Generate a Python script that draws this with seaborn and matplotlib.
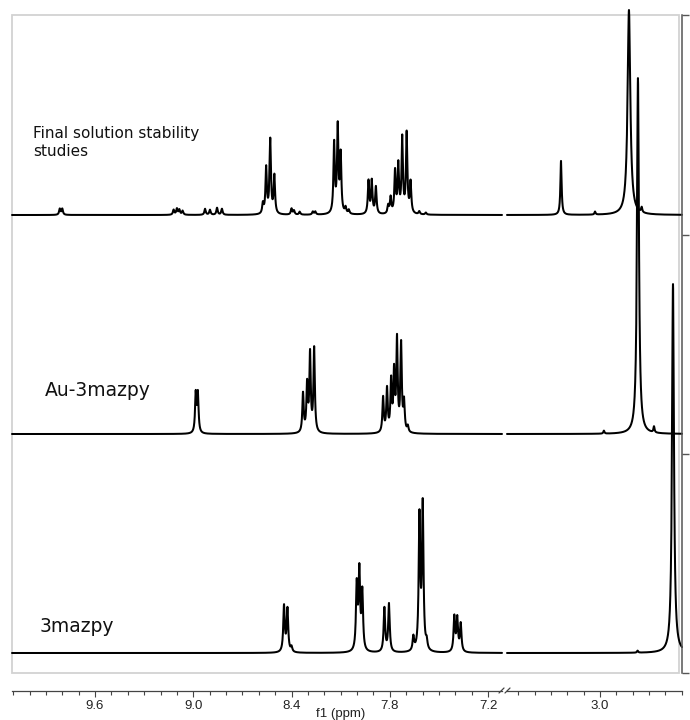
import numpy as np
import pandas as pd
import matplotlib
matplotlib.use("Agg")
import matplotlib.pyplot as plt
from matplotlib.patches import Rectangle
from matplotlib.lines import Line2D
from matplotlib.ticker import MultipleLocator, NullFormatter
import seaborn as sns

# ---------------- data (peak lists) ----------------
trace_names = ["3mazpy", "Au-3mazpy", "Final solution stability\nstudies"]
trace_offsets = [0, 219, 438]

# aromatic region (left panel): chemical shift (ppm) / peak height
top_left_ppm = [9.815, 9.800, 9.120, 9.100, 9.085, 9.065, 8.928, 8.898, 8.855, 8.825,
                8.575, 8.555, 8.530, 8.505, 8.400, 8.385, 8.350, 8.270, 8.255,
                8.140, 8.118, 8.100, 8.070, 8.050, 7.930, 7.910, 7.885,
                7.810, 7.795, 7.768, 7.748, 7.724, 7.697, 7.673, 7.620, 7.580]
top_left_int = [6, 6, 5, 6, 5, 4, 6, 5, 7, 6,
                10, 46, 74, 38, 6, 4, 3, 3, 3,
                70, 86, 58, 6, 4, 33, 33, 27,
                8, 16, 42, 48, 75, 80, 31, 3, 2]

mid_left_ppm = [8.985, 8.972, 8.330, 8.305, 8.287, 8.262,
                7.841, 7.817, 7.792, 7.774, 7.756, 7.731, 7.713, 7.690]
mid_left_int = [39, 39, 39, 47, 78, 84,
                35, 43, 50, 58, 91, 87, 29, 6]

bot_left_ppm = [8.446, 8.425, 8.400, 8.002, 7.986, 7.968, 7.833, 7.805,
                7.656, 7.619, 7.599, 7.575, 7.406, 7.388, 7.367]
bot_left_int = [46, 43, 5, 65, 78, 58, 44, 48,
                14, 133, 145, 8, 35, 33, 28]

# aliphatic region (right panel)
top_right_ppm = [3.238, 3.030, 2.823, 2.745]
top_right_int = [54, 3, 205, 5]
top_right_w = [0.0045, 0.004, 0.010, 0.004]

mid_right_ppm = [2.976, 2.768, 2.670]
mid_right_int = [3, 356, 6]
mid_right_w = [0.004, 0.007, 0.004]

bot_right_ppm = [2.770, 2.554]
bot_right_int = [2, 369]
bot_right_w = [0.004, 0.007]

left_width = [0.0055, 0.005, 0.005]

x_major_step = 0.6
x_minor_step = 0.1
x_label = "f1 (ppm)"


def lorentz(grid, centers, heights, widths):
    y = np.zeros_like(grid)
    for c, h, w in zip(centers, heights, widths):
        y += h * w ** 2 / ((grid - c) ** 2 + w ** 2)
    return y


# ---------------- figure ----------------
sns.set_theme(style="white")
plt.rcParams["font.family"] = ["DejaVu Sans"]

W, H = 690, 720
fig = plt.figure(figsize=(W / 100, H / 100), dpi=100)


def fx(px):
    return px / W


def fy(py):
    return 1 - py / H


top_px, bot_px = 15, 673
ax1 = fig.add_axes([fx(12), fy(bot_px), fx(502) - fx(12), (bot_px - top_px) / H])
ax2 = fig.add_axes([fx(507), fy(bot_px), fx(682) - fx(507), (bot_px - top_px) / H])

left_lim = (10.107, 7.115)
right_lim = (3.568, 2.499)
grid_l = np.linspace(left_lim[1], left_lim[0], 7000)
grid_r = np.linspace(right_lim[1], right_lim[0], 3000)

left_sets = [(bot_left_ppm, bot_left_int), (mid_left_ppm, mid_left_int), (top_left_ppm, top_left_int)]
right_sets = [(bot_right_ppm, bot_right_int, bot_right_w),
              (mid_right_ppm, mid_right_int, mid_right_w),
              (top_right_ppm, top_right_int, top_right_w)]

for i, off in enumerate(trace_offsets):
    cl, hl = left_sets[i]
    yl = lorentz(grid_l, cl, hl, [left_width[i]] * len(cl)) + off
    sns.lineplot(x=grid_l, y=yl, ax=ax1, color="black", lw=1.45, sort=False,
                 estimator=None, clip_on=False)
    cr, hr, wr = right_sets[i]
    yr = lorentz(grid_r, cr, hr, wr) + off
    sns.lineplot(x=grid_r, y=yr, ax=ax2, color="black", lw=1.45, sort=False,
                 estimator=None, clip_on=False)

for ax, lim in ((ax1, left_lim), (ax2, right_lim)):
    ax.set_facecolor("none")
    ax.set_xlim(*lim)
    ax.set_ylim(-20, 638)
    ax.set_xlabel("")
    ax.set_ylabel("")
    ax.grid(False)
    ax.xaxis.set_major_locator(MultipleLocator(x_major_step))
    ax.xaxis.set_minor_locator(MultipleLocator(x_minor_step))
    ax.xaxis.set_minor_formatter(NullFormatter())
    ax.spines["top"].set_visible(False)
    ax.spines["left"].set_visible(False)
    ax.spines["bottom"].set_position(("outward", 12.96))
    ax.spines["bottom"].set_color("#444444")
    ax.spines["bottom"].set_linewidth(0.9)
    ax.tick_params(axis="x", which="both", direction="out", bottom=True,
                   color="#444444", width=0.8, pad=2.5,
                   labelsize=9.5, labelcolor="#222222")
    ax.tick_params(axis="x", which="major", length=4)
    ax.tick_params(axis="x", which="minor", length=3)
    for lab in ax.get_xticklabels():
        lab.set_family(["Liberation Sans", "DejaVu Sans"])

ax1.spines["right"].set_visible(False)
ax1.set_yticks([])

ax2.spines["right"].set_color("#555555")
ax2.spines["right"].set_linewidth(1.1)
ax2.yaxis.tick_right()
ax2.set_yticks([-20, 199, 418, 638])
ax2.tick_params(axis="y", which="major", direction="out", right=True, left=False,
                length=5, width=1.0, color="#555555", labelright=False)

# light frame around the spectral area
fig.add_artist(Rectangle((fx(12), fy(bot_px)), fx(679) - fx(12), (bot_px - top_px) / H,
                         transform=fig.transFigure, fill=False, ec="#d2d2d2", lw=1.3,
                         zorder=0))

# axis break marks
for x0 in (499, 505):
    fig.add_artist(Line2D([fx(x0), fx(x0 + 5)], [fy(693), fy(688)],
                          transform=fig.transFigure, color="#444444", lw=0.9))

# trace labels
fig.text(fx(33), fy(142.5), trace_names[2], fontsize=11, ha="left", va="center",
         color="#111111", linespacing=1.25)
fig.text(fx(45), fy(390), trace_names[1], fontsize=13.5, ha="left", va="center",
         color="#111111")
fig.text(fx(40), fy(627), trace_names[0], fontsize=13.5, ha="left", va="center",
         color="#111111")

# x axis title
fig.text(fx(341), fy(719.5), x_label, fontsize=9.5, ha="center", va="bottom",
         family=["Liberation Sans", "DejaVu Sans"], color="#222222")

fig.savefig("out.png", dpi=100)
